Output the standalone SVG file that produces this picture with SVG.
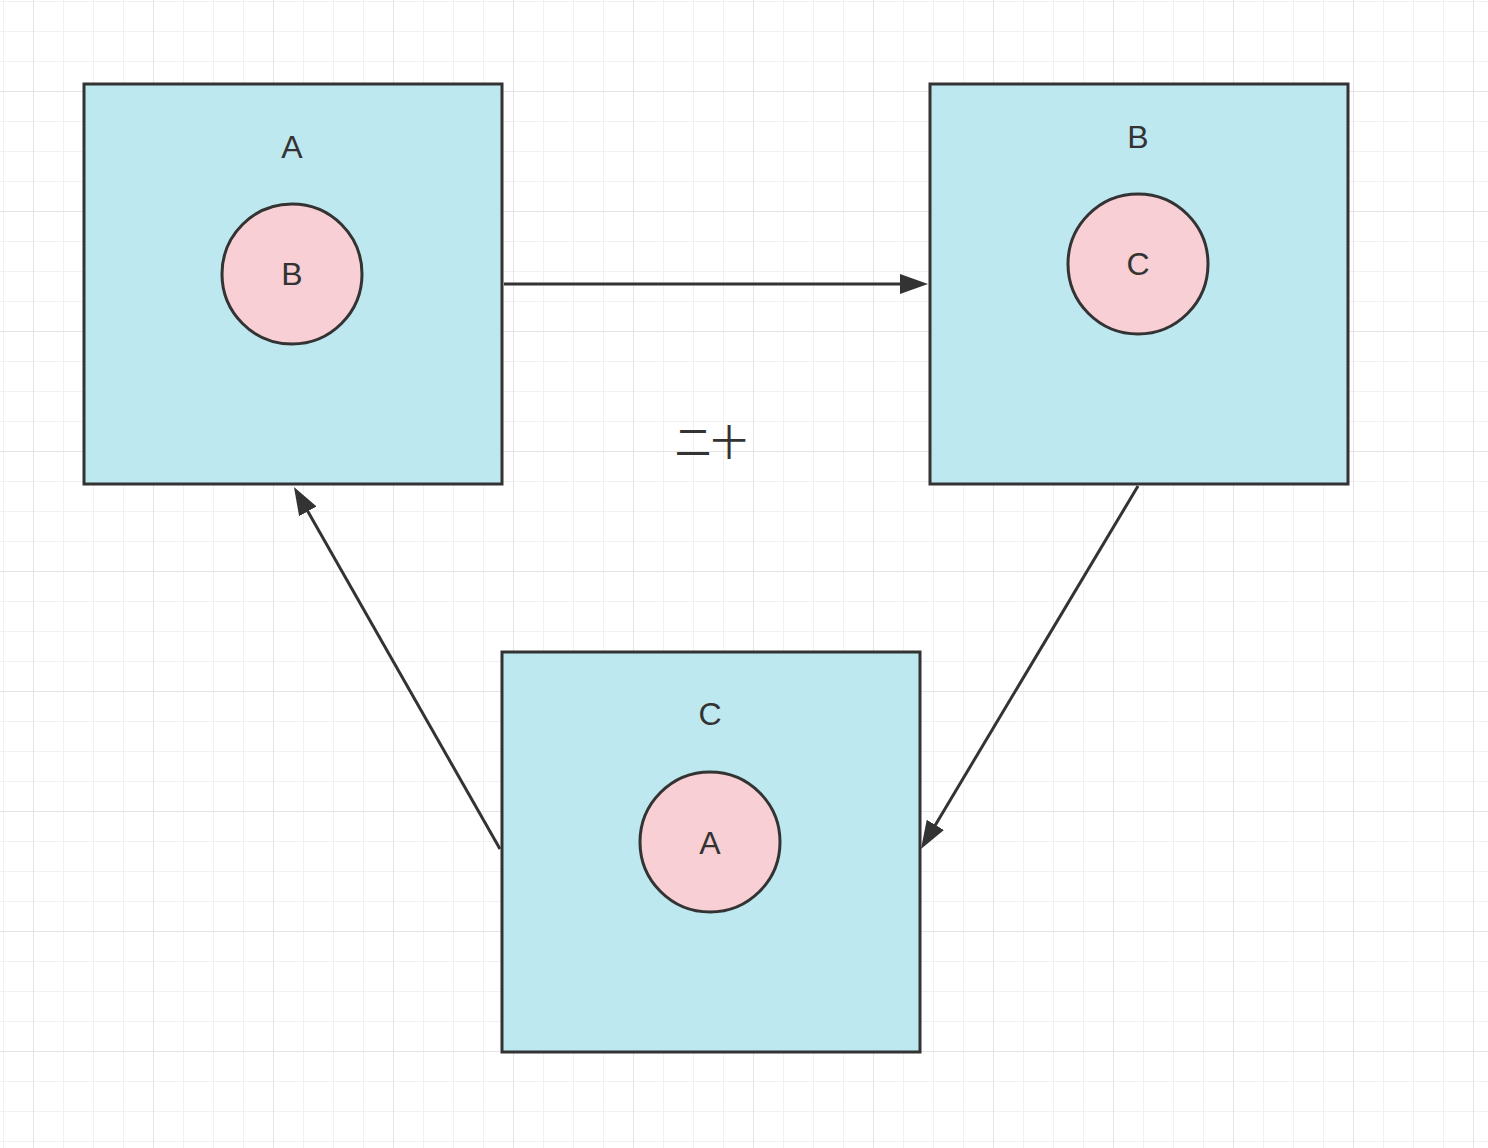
<svg xmlns="http://www.w3.org/2000/svg" width="1488" height="1148" viewBox="0 0 1488 1148">
  <defs>
    <pattern id="minor" patternUnits="userSpaceOnUse" x="3" y="1" width="30" height="30">
      <rect x="0" y="0" width="1" height="30" fill="#f1f1f1"/>
      <rect x="0" y="0" width="30" height="1" fill="#f1f1f1"/>
    </pattern>
    <pattern id="major" patternUnits="userSpaceOnUse" x="33" y="91" width="120" height="120">
      <rect x="0" y="0" width="1" height="120" fill="#e4e4e4"/>
      <rect x="0" y="0" width="120" height="1" fill="#e4e4e4"/>
    </pattern>
    <marker id="arrow" markerUnits="userSpaceOnUse" markerWidth="28" markerHeight="20" viewBox="0 0 28 20" refX="18" refY="10" orient="auto">
      <path d="M0,0 L28,10 L0,20 Z" fill="#333333"/>
    </marker>
    <style>
      .box { fill: #bee8ef; stroke: #333333; stroke-width: 3; }
      .circ { fill: #f7cfd4; stroke: #333333; stroke-width: 3; }
      .lbl { font-family: "Liberation Sans", "Noto Sans CJK SC", sans-serif; font-size: 32px; fill: #333333; text-anchor: middle; }
      .conn { stroke: #333333; stroke-width: 3; fill: none; marker-end: url(#arrow); }
    </style>
  </defs>
  <rect width="1488" height="1148" fill="#ffffff"/>
  <rect width="1488" height="1148" fill="url(#minor)"/>
  <rect width="1488" height="1148" fill="url(#major)"/>

  <g id="node-A">
    <rect class="box" x="84" y="84" width="418" height="400"/>
    <text class="lbl" x="292" y="158">A</text>
    <circle class="circ" cx="292" cy="274" r="70"/>
    <text class="lbl" x="292" y="285">B</text>
  </g>
  <g id="node-B">
    <rect class="box" x="930" y="84" width="418" height="400"/>
    <text class="lbl" x="1138" y="148">B</text>
    <circle class="circ" cx="1138" cy="264" r="70"/>
    <text class="lbl" x="1138" y="275">C</text>
  </g>
  <g id="node-C">
    <rect class="box" x="502" y="652" width="418" height="400"/>
    <text class="lbl" x="710" y="725">C</text>
    <circle class="circ" cx="710" cy="842" r="70"/>
    <text class="lbl" x="710" y="854">A</text>
  </g>
  <g id="label-center">
    <text class="lbl" x="711" y="456" style="font-size:36px">二十</text>
  </g>

  <g id="connectors">
    <line class="conn" x1="504" y1="284" x2="918" y2="284"/>
    <line class="conn" x1="1138" y1="486" x2="926.1" y2="840.4"/>
    <line class="conn" x1="500" y1="849" x2="298.9" y2="495.7"/>
  </g>
</svg>
